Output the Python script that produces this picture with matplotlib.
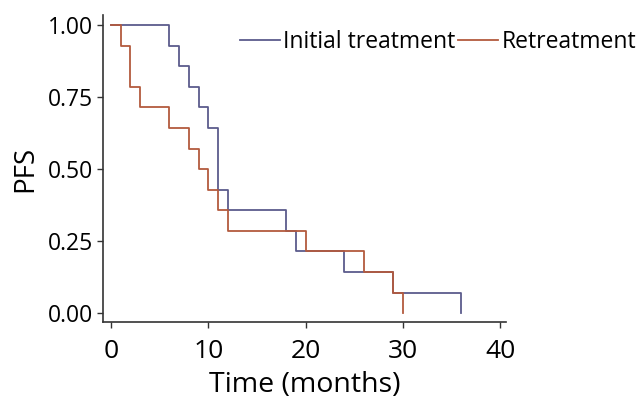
import matplotlib
matplotlib.use("Agg")
import matplotlib.pyplot as plt

plt.rcParams['font.family'] = ['Open Sans', 'DejaVu Sans']

# Kaplan-Meier step data (time in months, PFS)
initial_times = [0, 6, 7, 8, 9, 10, 11, 12, 18, 19, 24, 29, 36]
initial_pfs = [1.00, 0.929, 0.857, 0.786, 0.714, 0.643, 0.429, 0.357, 0.286, 0.214, 0.143, 0.071, 0.0]

retreat_times = [0, 1, 2, 3, 6, 8, 9, 10, 11, 12, 20, 26, 29, 30]
retreat_pfs = [1.00, 0.929, 0.786, 0.714, 0.643, 0.571, 0.5, 0.429, 0.357, 0.286, 0.214, 0.143, 0.071, 0.0]

series_names = ["Initial treatment", "Retreatment"]
colors = ["#5c5c8c", "#b35a3e"]

x_ticks = [0, 10, 20, 30, 40]
y_ticks = [0.00, 0.25, 0.50, 0.75, 1.00]
y_ticklabels = ["0.00", "0.25", "0.50", "0.75", "1.00"]

fig = plt.figure(figsize=(6.37, 4.13), dpi=100)
ax = fig.add_axes([0.1617, 0.2203, 0.6325, 0.7434])

ax.step(initial_times, initial_pfs, where='post', color=colors[0], lw=1.3, label=series_names[0])
ax.step(retreat_times, retreat_pfs, where='post', color=colors[1], lw=1.3, label=series_names[1])

ax.set_xlim(-0.82, 40.6)
ax.set_ylim(-0.031, 1.035)
ax.set_xticks(x_ticks)
ax.set_yticks(y_ticks)
ax.set_yticklabels(y_ticklabels)

for s in ['top', 'right']:
    ax.spines[s].set_visible(False)
for s in ['left', 'bottom']:
    ax.spines[s].set_color('#333333')
    ax.spines[s].set_linewidth(1.2)
ax.tick_params(direction='out', length=4, width=1.0, color='#333333',
               labelcolor='black')
ax.tick_params(axis='x', pad=8, labelsize=19)
ax.tick_params(axis='y', pad=3, labelsize=16.5)

ax.set_xlabel("Time (months)", fontsize=20.5, labelpad=5)
ax.set_ylabel("PFS", fontsize=20, labelpad=6)

leg = ax.legend(loc='center left', bbox_to_anchor=(0.34, 0.912), ncol=2, frameon=False,
                fontsize=16.5, handlelength=1.75, handletextpad=0.13, columnspacing=0.13,
                borderaxespad=0, borderpad=0)

fig.savefig("out.png", dpi=100)
